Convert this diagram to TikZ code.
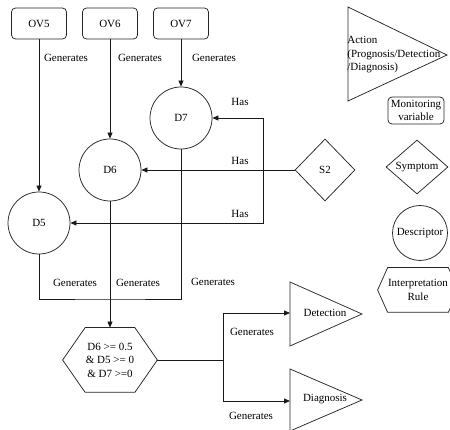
\documentclass[tikz,border=0pt]{standalone}
\usepackage{fontspec}
\setmainfont{Liberation Serif}
\newfontfamily\diagfont{Liberation Serif}
\usetikzlibrary{shapes.geometric,arrows.meta,calc}
\begin{document}
\begin{tikzpicture}[x=1pt,y=-1pt,
  font=\diagfont\fontsize{11}{13.5}\selectfont,
  line width=0.75pt, draw=black!85,
  ovbox/.style={draw=black!85, rounded corners=4pt, minimum width=55pt, minimum height=31pt, inner sep=0pt},
  desc/.style={draw=black!85, circle, minimum size=62pt, inner sep=0pt},
  sym/.style={draw=black!85, diamond, minimum width=60pt, minimum height=62pt, inner sep=0pt},
  arr/.style={draw=black!90, -{Triangle[length=6pt,width=5pt]}},
  conn/.style={draw=black!90},
  lbl/.style={inner sep=0pt},
  shapeline/.style={draw=black!85}]
\useasboundingbox (0,0) rectangle (450,430);

% top boxes
\node[ovbox] (ov5) at (39,23.5) {OV5};
\node[ovbox] (ov6) at (110,23.5) {OV6};
\node[ovbox] (ov7) at (181,23.5) {OV7};

% descriptors
\node[desc] (d7) at (181,118) {D7};
\node[desc] (d6) at (110,170) {D6};
\node[desc] (d5) at (39,223) {D5};

% symptom
\node[sym] (s2) at (325,170) {S2};

% rule hexagon
\node[minimum width=94pt, minimum height=64pt, align=center, inner sep=0pt] (rule) at (110,360) {D6 >= 0.5\\\& D5 >= 0\\\& D7 >=0};
\draw[shapeline] (rule.west) -- ($(rule.north west)+(22.5,0)$) -- ($(rule.north east)+(-22.5,0)$) -- (rule.east) -- ($(rule.south east)+(-22.5,0)$) -- ($(rule.south west)+(22.5,0)$) -- cycle;

% action triangles
\draw[shapeline] (290,282) -- (362,314) -- (290,346) -- cycle;
\node[lbl] (det) at (325,313) {Detection};
\coordinate (detin) at (290,313);
\draw[shapeline] (290,369) -- (362,400) -- (290,431) -- cycle;
\node[lbl] (diag) at (325,399) {Diagnosis};
\coordinate (diagin) at (290,401);

% legend
\draw[shapeline] (348,7) -- (447,55) -- (348,101) -- cycle;
\node[anchor=west, align=left, inner sep=0pt] (act) at (347,55) {Action\\(Prognosis/Detection\\/Diagnosis)};
\node[draw=black!85, rounded corners=4pt, minimum width=56pt, minimum height=27pt, inner sep=0pt, align=center, font=\diagfont\fontsize{11}{13}\selectfont] (mv) at (416,110.5) {Monitoring\\variable};
\node[draw=black!85, diamond, minimum width=62pt, minimum height=54pt, inner sep=0pt] (symp) at (417,167) {Symptom};
\node[draw=black!85, circle, minimum size=55pt, inner sep=0pt] (descr) at (420,233) {Descriptor};
\node[minimum width=80pt, minimum height=44pt, align=center, inner sep=0pt] (ir) at (418,290) {Interpretation\\Rule};
\draw[shapeline] (ir.west) -- ($(ir.north west)+(10,0)$) -- ($(ir.north east)+(-10,0)$) -- (ir.east) -- ($(ir.south east)+(-10,0)$) -- ($(ir.south west)+(10,0)$) -- cycle;

% labels
\node[lbl] (g1) at (66,58) {Generates};
\node[lbl] (g2) at (140,58) {Generates};
\node[lbl] (g3) at (214,58) {Generates};
\node[lbl] (h1) at (240,102) {Has};
\node[lbl] (h2) at (240,161) {Has};
\node[lbl] (h3) at (240,214) {Has};
\node[lbl] (g4) at (75,283) {Generates};
\node[lbl] (g5) at (138,283) {Generates};
\node[lbl] (g6) at (213,282) {Generates};
\node[lbl] (g7) at (252,332) {Generates};
\node[lbl] (g8) at (251,416) {Generates};

% connectors
\draw[arr] (ov5.south) -- (d5.north);
\draw[arr] (ov6.south) -- (d6.north);
\draw[arr] (ov7.south) -- (d7.north);
\draw[arr] (s2.west) -- (d6.east);
\coordinate (hj) at (263,170);
\draw[arr] (hj) |- (d7.east);
\draw[arr] (hj) |- (d5.east);
\coordinate (bj) at (110,299);
\draw[conn] (d5.south) |- (bj) -| (d7.south);
\draw[arr] (d6.south) -- (rule.north);
\coordinate (rj) at (223,360);
\draw[conn] (rule.east) -- (rj);
\draw[arr] (rj) |- (detin);
\draw[arr] (rj) |- (diagin);
\end{tikzpicture}
\end{document}
